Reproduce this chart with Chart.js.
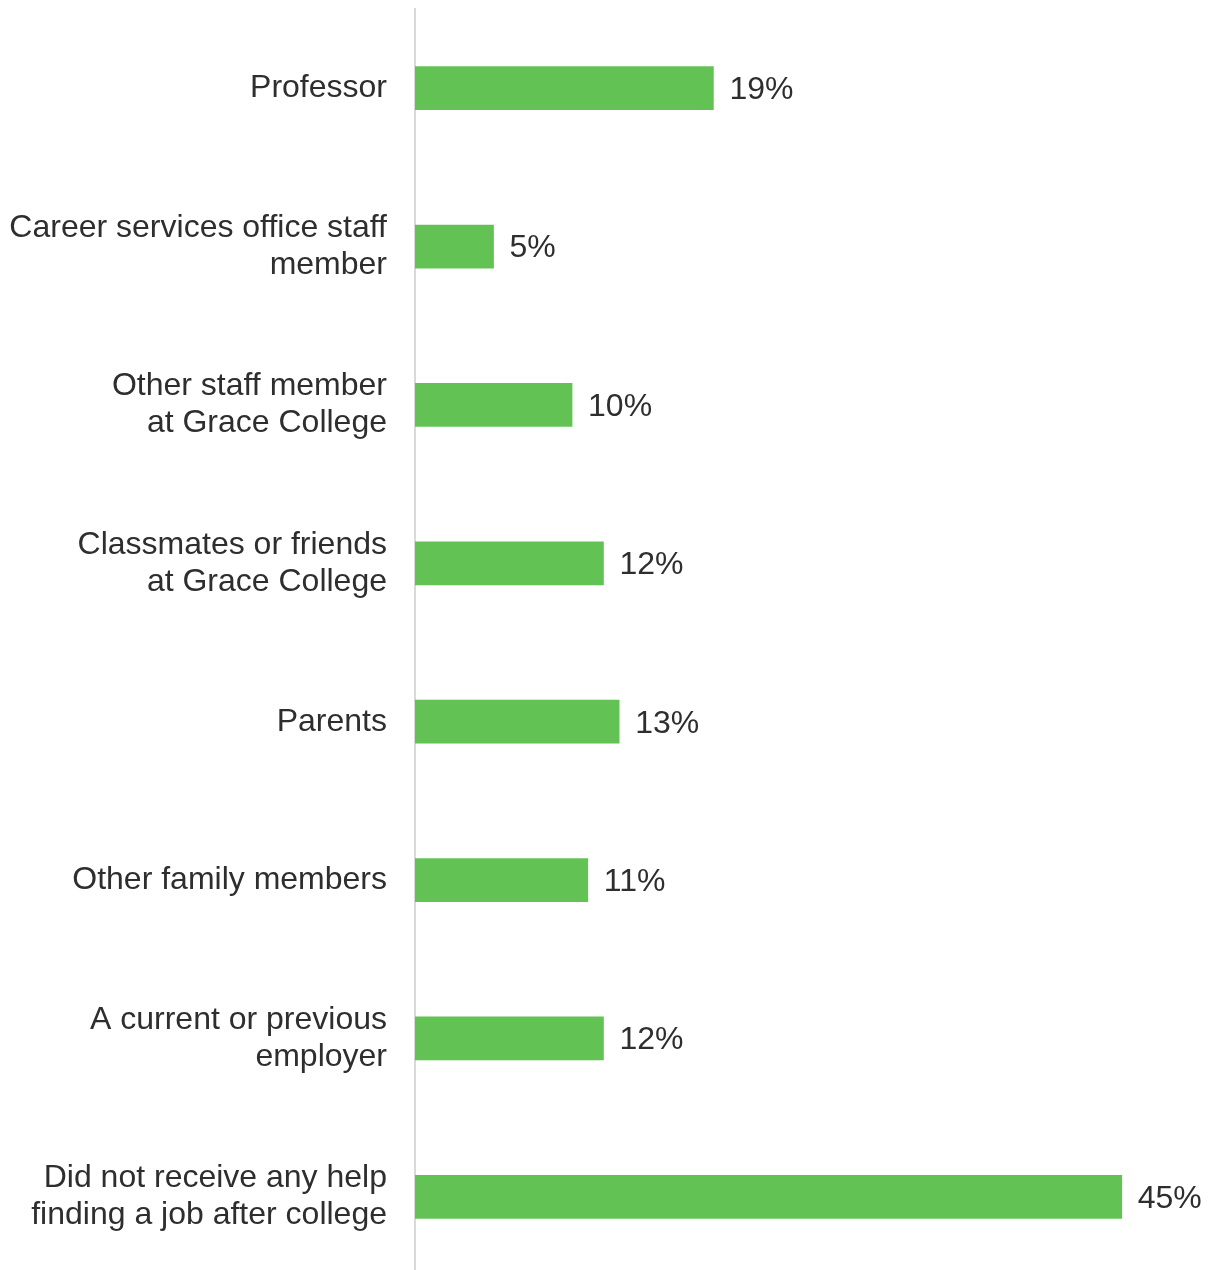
<!DOCTYPE html>
<html>
<head>
<meta charset="utf-8">
<script src="https://cdn.jsdelivr.net/npm/chart.js@4/dist/chart.umd.min.js"></script>
<style>
  html, body { margin: 0; padding: 0; background: #fff; overflow: hidden; }
  #wrap { position: relative; width: 1216px; height: 1276px; }
</style>
</head>
<body>
<div id="wrap"><canvas id="chart"></canvas></div>
<script>
// categories (line breaks as in the picture)
var categories = [
    'Professor',
    ['Career services office staff', 'member'],
    ['Other staff member', 'at Grace College'],
    ['Classmates or friends', 'at Grace College'],
    'Parents',
    'Other family members',
    ['A current or previous', 'employer'],
    ['Did not receive any help', 'finding a job after college']
];

// percent of respondents
var shares = [19, 5, 10, 12, 13, 11, 12, 45];

var barColor = '#62C354';
var textColor = '#2e2e2e';
var fontFamily = '"Liberation Sans", Arial, sans-serif';
var fontSize = 32;

//================================================================================
// value labels at the end of each bar
//================================================================================
var valueLabels = {
    id: 'valueLabels',
    afterDatasetsDraw: function (chart) {
        var ctx = chart.ctx;
        var meta = chart.getDatasetMeta(0);
        ctx.save();
        ctx.font = fontSize + 'px ' + fontFamily;
        ctx.fillStyle = textColor;
        ctx.textAlign = 'left';
        ctx.textBaseline = 'middle';
        meta.data.forEach(function (bar, i) {
            ctx.fillText(shares[i] + '%', bar.x + 16, bar.y + 2);
        });
        ctx.restore();
    }
};

new Chart(document.getElementById('chart'), {
    type: 'bar',
    data: {
        labels: categories,
        datasets: [{
            data: shares,
            backgroundColor: barColor,
            borderWidth: 0,
            barThickness: 43
        }]
    },
    options: {
        indexAxis: 'y',
        responsive: true,
        maintainAspectRatio: false,
        animation: false,
        layout: { padding: { top: 9, right: 0, bottom: 0, left: 0 } },
        plugins: {
            legend: { display: false },
            tooltip: { enabled: false }
        },
        scales: {
            x: {
                display: false,
                min: 0,
                max: 51
            },
            y: {
                grid: { display: false, drawTicks: false },
                border: { display: true, color: '#d9d9d9', width: 2 },
                ticks: {
                    padding: 28,
                    color: textColor,
                    font: { family: fontFamily, size: fontSize, lineHeight: 37 / fontSize }
                },
                afterFit: function (scale) {
                    // fixed axis width, and no extra room above/below for labels
                    scale.width = 415;
                    scale.paddingTop = 0;
                    scale.paddingBottom = 0;
                }
            }
        }
    },
    plugins: [valueLabels]
});
</script>
</body>
</html>
